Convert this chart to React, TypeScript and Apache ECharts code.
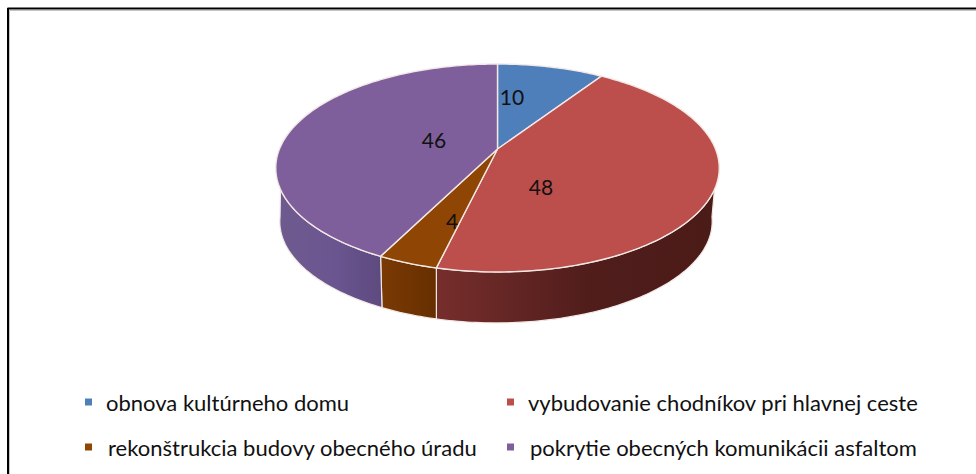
import React, { useEffect, useRef } from "react";
import * as echarts from "echarts";

const categories = [
  "obnova kultúrneho domu",
  "vybudovanie chodníkov pri hlavnej ceste",
  "rekonštrukcia budovy obecného úradu",
  "pokrytie obecných komunikácii asfaltom",
];
const values = [10, 48, 4, 46];

const topColors = ["#4f7fba", "#bc4e4b", "#8f4504", "#7e5f9c"];
const wallStops = [
  ["#3a5f8c", "#3a5f8c", "#3a5f8c"],
  ["#762e2c", "#501d1b", "#4b1b18"],
  ["#7a3a04", "#703402", "#662f00"],
  ["#6f5a8f", "#6a5590", "#5d4a7e"],
];
const labelAnchors = [
  [512, 96],
  [541, 186],
  [452, 220],
  [434, 139],
];
const legendAnchors = [
  [85, 391],
  [507, 391],
  [85, 436],
  [507, 436],
];
const legendTextShift = [9, 9, 11, 11];

// perspective projection of the pie disc
const CX = 497.5, CY = 149, RX = 218, RY = 100.5, K = 0.1827;
const DEPTH = 54, BOTTOM_SCALE = 0.975, BOTTOM_SHIFT = -1.5;
const EDGE = "#f2e8e6";
const DEG = Math.PI / 180;
const total = values.reduce((a, b) => a + b, 0);

function rim(theta: number, scale = 1, dy = 0, dx = 0): number[] {
  const s = Math.cos(theta);
  const c = Math.sin(theta);
  const d = 1 + K * s;
  return [CX + dx + (RX * scale * c) / d, CY - (RY * scale * s) / d + dy];
}

function arc(a: number, b: number, scale = 1, dy = 0, dx = 0): number[][] {
  const n = Math.max(2, Math.ceil(Math.abs(b - a) / DEG));
  const pts: number[][] = [];
  for (let i = 0; i <= n; i++) pts.push(rim(a + ((b - a) * i) / n, scale, dy, dx));
  return pts;
}

function App() {
  const ref = useRef<HTMLDivElement>(null);
  useEffect(() => {
    const chart = echarts.init(ref.current!, undefined, { renderer: "svg" });
    let cum = 0;
    const series = categories.map((name, i) => {
      const a0 = (cum / total) * Math.PI * 2;
      cum += values[i];
      const a1 = (cum / total) * Math.PI * 2;
      return {
        type: "custom",
        name,
        coordinateSystem: "none",
        itemStyle: { color: topColors[i] },
        data: [values[i]],
        renderItem: (_p: any, api: any) => {
          const children: any[] = [];
          const ua = Math.max(a0, 112 * DEG);
          const ub = Math.min(a1, 248 * DEG);
          const la = Math.max(a0, 98 * DEG);
          const lb = Math.min(a1, 262 * DEG);
          if (ub > ua) {
            const upper = arc(ua, ub);
            const lower = arc(la, lb, BOTTOM_SCALE, DEPTH, BOTTOM_SHIFT).reverse();
            children.push({
              type: "polygon",
              shape: { points: upper.concat(lower) },
              style: {
                fill: {
                  type: "linear", x: 0, y: 0, x2: 1, y2: 0,
                  colorStops: [
                    { offset: 0, color: wallStops[i][0] },
                    { offset: 0.55, color: wallStops[i][1] },
                    { offset: 1, color: wallStops[i][2] },
                  ],
                },
                stroke: EDGE,
                lineWidth: 1.2,
              },
            });
          }
          children.push({
            type: "polygon",
            shape: { points: [[CX, CY]].concat(arc(a0, a1)) },
            style: { fill: topColors[i], stroke: EDGE, lineWidth: 1.4 },
          });
          children.push({
            type: "text",
            style: {
              text: String(api.value(0)),
              x: labelAnchors[i][0],
              y: labelAnchors[i][1],
              align: "center",
              verticalAlign: "middle",
              fontFamily: "Lato",
              fontSize: 21,
              fill: "#111",
            },
          });
          return { type: "group", children };
        },
      };
    });
    chart.setOption({
      animation: false,
      backgroundColor: "#fff",
      graphic: [
        { type: "line", shape: { x1: 7.5, y1: 8.5, x2: 976, y2: 8.5 }, style: { stroke: "#000", lineWidth: 2 } },
        { type: "line", shape: { x1: 8, y1: 8, x2: 8, y2: 474 }, style: { stroke: "#000", lineWidth: 2 } },
        { type: "line", shape: { x1: 9, y1: 10.5, x2: 976, y2: 10.5 }, style: { stroke: "#c4c4c4", lineWidth: 1 } },
        { type: "line", shape: { x1: 9.5, y1: 10, x2: 9.5, y2: 474 }, style: { stroke: "#c4c4c4", lineWidth: 1 } },
      ],
      legend: categories.map((name, i) => ({
        data: [name],
        left: legendAnchors[i][0],
        top: legendAnchors[i][1],
        padding: 0,
        selectedMode: false,
        icon: "rect",
        itemWidth: 7,
        itemHeight: 7,
        textStyle: {
          fontFamily: "Lato",
          fontSize: 22,
          color: "#111",
          padding: [0, 0, 0, legendTextShift[i]],
        },
      })),
      series,
    });
    return () => chart.dispose();
  }, []);
  return (
    <div
      ref={ref}
      style={{ position: "absolute", left: 0, top: 0, width: 976, height: 474 }}
    />
  );
}

export default App;
